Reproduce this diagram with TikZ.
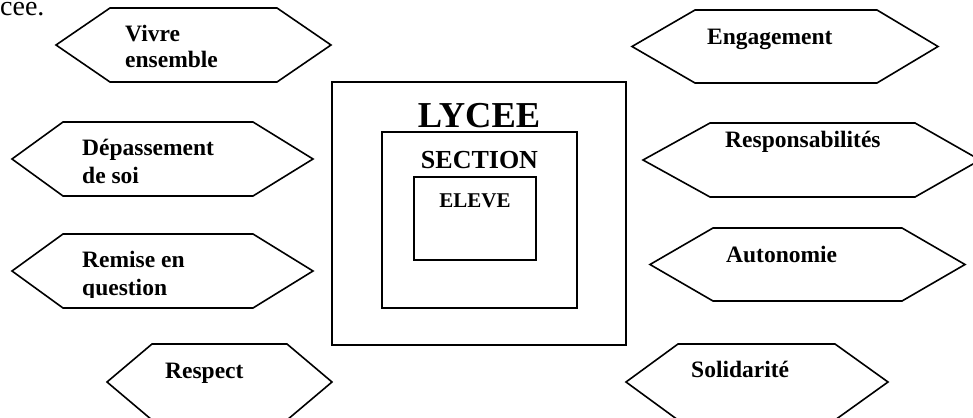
\documentclass[tikz,border=0pt]{standalone}
\usepackage{fontspec}
\setmainfont{Liberation Serif}
\tikzstyle{hexa} = [draw, line width=1.6pt, line join=miter]
\tikzstyle{frame} = [draw, line width=1.6pt]
\tikzstyle{value} = [font=\fontsize{23.5}{28}\selectfont\bfseries, anchor=base west, align=left, inner sep=0pt]
\tikzstyle{level} = [font=\bfseries, anchor=base, inner sep=0pt]
% left point, top left, top right, right point, top, bottom
\newcommand{\drawhex}[6]{\draw [hexa] (#1,{(#5+#6)/2}) -- (#2,#5) -- (#3,#5) -- (#4,{(#5+#6)/2}) -- (#3,#6) -- (#2,#6) -- cycle;}

\begin{document}
\begin{tikzpicture}[x=1pt, y=-1pt]
    \useasboundingbox (0,0) rectangle (973,417);

        % text cut from the page
        \node (intro) [font=\fontsize{28}{30}\selectfont, anchor=base west, inner sep=0pt] at (0,16) {cée.};

        % boxes
        \draw [frame] (332,82) rectangle (626,345);
        \draw [frame] (382,132) rectangle (577,308);
        \draw [frame] (414,177) rectangle (536,260);
        \node (lycee) [level, font=\fontsize{36.5}{40}\selectfont\bfseries] at (479,127) {LYCEE};
        \node (section) [level, font=\fontsize{26}{30}\selectfont\bfseries] at (479.5,168) {SECTION};
        \node (eleve) [level, font=\fontsize{21}{24}\selectfont\bfseries] at (475,207) {ELEVE};

        % left values
        \drawhex{56}{110}{277}{331}{8}{82}
        \drawhex{12}{63}{253}{313}{122}{196}
        \drawhex{12}{63}{253}{313}{234}{308}
        \drawhex{107}{152}{287}{332}{344}{420}
        \node (vivre) [value, font=\fontsize{23.5}{26}\selectfont\bfseries] at (125,68) {Vivre\\ensemble};
        \node (depassement) [value] at (82,183) {Dépassement\\de soi};
        \begin{scope}
            \clip (0,230) rectangle (330,297);
            \node (remise) [value] at (82,295) {Remise en\\question};
        \end{scope}
        \node (respect) [value] at (165,378) {Respect};

        % right values
        \drawhex{632}{695}{877}{938}{10}{83}
        \drawhex{643}{710}{915}{980}{123}{197}
        \drawhex{650}{713}{902}{965}{228}{301}
        \drawhex{626}{678}{835}{888}{344}{420}
        \node (engagement) [value] at (707,45) {Engagement};
        \node (responsabilites) [value] at (725,147) {Responsabilités};
        \node (autonomie) [value] at (726,262) {Autonomie};
        \node (solidarite) [value] at (691,377) {Solidarité};

    \end{tikzpicture}
\end{document}
